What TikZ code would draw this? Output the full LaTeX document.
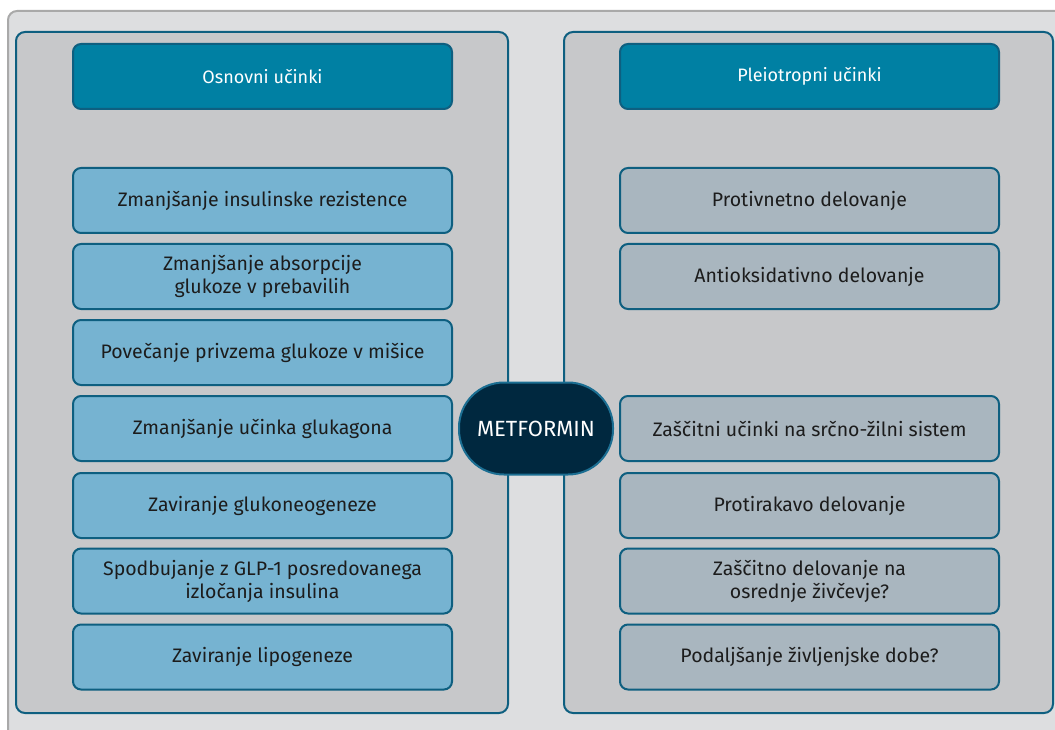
\documentclass[tikz,border=0pt]{standalone}
\usepackage{fontspec}
\setmainfont{Fira Sans}
\definecolor{framebg}{HTML}{DDDEE0}
\definecolor{frameline}{HTML}{A9A9A9}
\definecolor{panelbg}{HTML}{C7C8CA}
\definecolor{navline}{HTML}{0E5F80}
\definecolor{headbg}{HTML}{0080A3}
\definecolor{leftbg}{HTML}{76B3D1}
\definecolor{rightbg}{HTML}{A9B6BF}
\definecolor{metbg}{HTML}{00283F}
\definecolor{metline}{HTML}{1B6E92}
\definecolor{txt}{HTML}{1C1C1C}
\begin{document}
\begin{tikzpicture}[x=1pt,y=-1pt,
  panel/.style={draw=navline,fill=panelbg,line width=2pt,rounded corners=9pt,minimum height=681pt,inner sep=0pt},
  head/.style={draw=navline,fill=headbg,line width=2pt,rounded corners=8pt,minimum width=379pt,minimum height=65pt,inner sep=0pt,text=white,font=\fontsize{18}{22}\selectfont},
  itemL/.style={draw=navline,fill=leftbg,line width=2pt,rounded corners=8pt,minimum width=379pt,minimum height=65pt,inner sep=0pt,text=txt,align=center,font=\fontsize{19.5}{23}\selectfont},
  itemR/.style={itemL,fill=rightbg},
  met/.style={draw=metline,fill=metbg,line width=2pt,rounded corners=45pt,minimum width=154pt,minimum height=92pt,inner sep=0pt,text=white,font=\fontsize{22}{26}\selectfont}]
\useasboundingbox (0,0) rectangle (1055,730);
\begin{scope}
\clip (0,0) rectangle (1055,730);
\draw[fill=framebg,draw=frameline,line width=2pt,rounded corners=9pt] (8,11) rectangle (1075,750);
\end{scope}
\node[panel,minimum width=492pt] (pL) at (262,372.5) {};
\node[panel,minimum width=489pt] (pR) at (808.5,372.5) {};
\node[head] (hL) at (262.5,76.5) {Osnovni učinki};
\node[head] (hR) at (809.5,76.5) {Pleiotropni učinki};
\node[itemL] (l1) at (262.5,200.5) {Zmanjšanje insulinske rezistence};
\node[itemL] (l2) at (262.5,276.5) {Zmanjšanje absorpcije\\glukoze v prebavilih};
\node[itemL] (l3) at (262.5,352.5) {Povečanje privzema glukoze v mišice};
\node[itemL] (l4) at (262.5,428.5) {Zmanjšanje učinka glukagona};
\node[itemL] (l5) at (262.5,505.5) {Zaviranje glukoneogeneze};
\node[itemL] (l6) at (262.5,581) {Spodbujanje z GLP-1 posredovanega\\izločanja insulina};
\node[itemL] (l7) at (262.5,657) {Zaviranje lipogeneze};
\node[itemR] (r1) at (809.5,200.5) {Protivnetno delovanje};
\node[itemR] (r2) at (809.5,276.5) {Antioksidativno delovanje};
\node[itemR] (r4) at (809.5,428.5) {Zaščitni učinki na srčno-žilni sistem};
\node[itemR] (r5) at (809.5,505.5) {Protirakavo delovanje};
\node[itemR] (r6) at (809.5,581) {Zaščitno delovanje na\\osrednje živčevje?};
\node[itemR] (r7) at (809.5,657) {Podaljšanje življenjske dobe?};
\node[met] (m) at (536,428.5) {METFORMIN};
\end{tikzpicture}
\end{document}
